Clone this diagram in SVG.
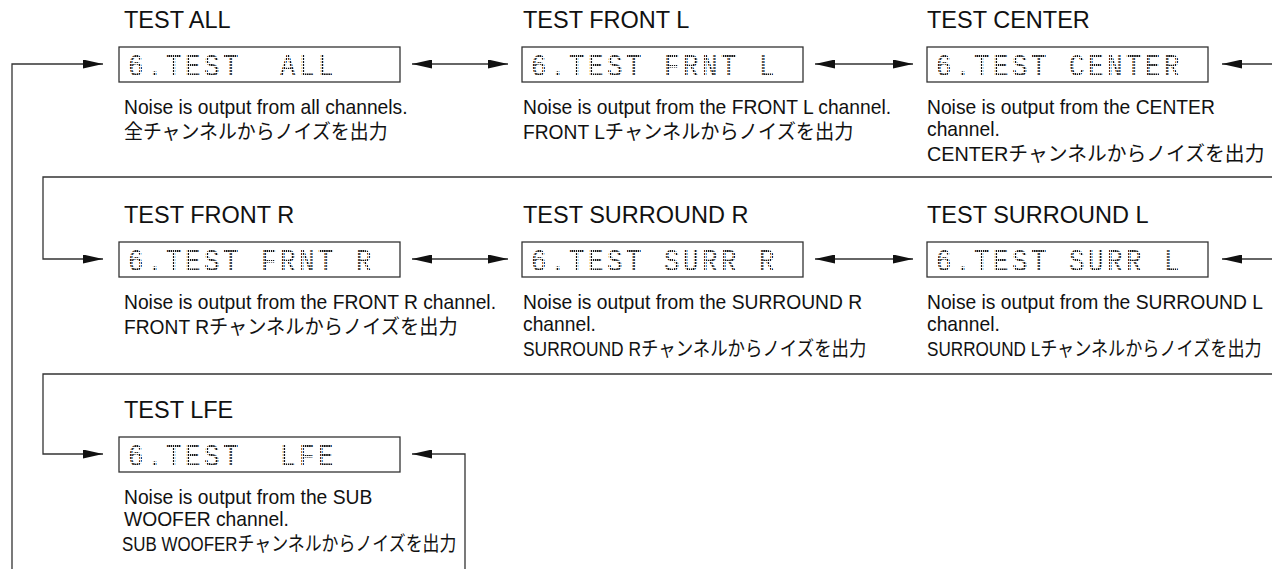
<svg xmlns="http://www.w3.org/2000/svg" width="1272" height="569" viewBox="0 0 1272 569">
<style>
.t{font-family:"Liberation Sans",Arial,sans-serif;font-size:23.5px;fill:#111}
.d{font-family:"Liberation Sans",Arial,sans-serif;font-size:20.5px;fill:#111}
.j{font-family:"Liberation Sans","Noto Sans CJK JP",sans-serif;font-size:20px;fill:#111}
.lcd{font-family:"Liberation Mono","DejaVu Sans Mono",monospace;font-size:31.5px;letter-spacing:4.27px;fill:url(#dots)}
.box{fill:#fff;stroke:#333;stroke-width:1.3}
.c{fill:none;stroke:#333;stroke-width:1.3}
</style>
<defs>
<pattern id="dots" width="2.6" height="3" patternUnits="userSpaceOnUse"><rect width="1.8" height="2" fill="#111"/></pattern>
<marker id="ah" viewBox="0 0 20 9" refX="20" refY="4.5" markerWidth="20" markerHeight="9" markerUnits="userSpaceOnUse" orient="auto-start-reverse"><path d="M0,0 L20,4.5 L0,9 z" fill="#111"/></marker>
</defs>
<rect width="1272" height="569" fill="#fff"/>
<g id="connectors">
<path class="c" d="M12,569 V64 H103" marker-end="url(#ah)"/>
<path class="c" d="M412,64 H508" marker-start="url(#ah)" marker-end="url(#ah)"/>
<path class="c" d="M815,64 H913" marker-start="url(#ah)" marker-end="url(#ah)"/>
<path class="c" d="M1272,64 H1222" marker-end="url(#ah)"/>
<path class="c" d="M1272,177 H43 V259 H103" marker-end="url(#ah)"/>
<path class="c" d="M412,259 H508" marker-start="url(#ah)" marker-end="url(#ah)"/>
<path class="c" d="M815,259 H913" marker-start="url(#ah)" marker-end="url(#ah)"/>
<path class="c" d="M1272,259 H1222" marker-end="url(#ah)"/>
<path class="c" d="M1272,374 H43 V454 H103" marker-end="url(#ah)"/>
<path class="c" d="M465,569 V454 H412" marker-end="url(#ah)"/>
</g>
<g id="test-all">
<text class="t" x="124" y="28">TEST ALL</text>
<rect class="box" x="119" y="47" width="281" height="35"/>
<text class="lcd" transform="translate(128 76) scale(0.82 1)">6.TEST <tspan x="185.4">ALL</tspan></text>
<text class="d" transform="translate(124 114) scale(0.94 1)">Noise is output from all channels.</text>
<text class="j" transform="translate(124 139) scale(0.946 1)">全チャンネルからノイズを出力</text>
</g>
<g id="test-front-l">
<text class="t" x="523" y="28">TEST FRONT L</text>
<rect class="box" x="522" y="47" width="281" height="35"/>
<text class="lcd" transform="translate(531 76) scale(0.82 1)">6.TEST <tspan x="162.2">FRNT</tspan> <tspan x="278">L</tspan></text>
<text class="d" transform="translate(523 114) scale(0.94 1)">Noise is output from the FRONT L channel.</text>
<text class="j" transform="translate(523 139) scale(0.961 1)">FRONT Lチャンネルからノイズを出力</text>
</g>
<g id="test-center">
<text class="t" x="927" y="28">TEST CENTER</text>
<rect class="box" x="927" y="47" width="281" height="35"/>
<text class="lcd" transform="translate(936 76) scale(0.82 1)">6.TEST <tspan x="162.2">CENTER</tspan></text>
<text class="d" transform="translate(927 114) scale(0.94 1)">Noise is output from the CENTER</text>
<text class="d" transform="translate(927 136) scale(0.94 1)">channel.</text>
<text class="j" transform="translate(927 161) scale(0.99 1)">CENTERチャンネルからノイズを出力</text>
</g>
<g id="test-front-r">
<text class="t" x="124" y="223">TEST FRONT R</text>
<rect class="box" x="119" y="242" width="281" height="35"/>
<text class="lcd" transform="translate(128 271) scale(0.82 1)">6.TEST <tspan x="162.2">FRNT</tspan> <tspan x="278">R</tspan></text>
<text class="d" transform="translate(124 309) scale(0.94 1)">Noise is output from the FRONT R channel.</text>
<text class="j" transform="translate(124 334) scale(0.961 1)">FRONT Rチャンネルからノイズを出力</text>
</g>
<g id="test-surround-r">
<text class="t" x="523" y="223">TEST SURROUND R</text>
<rect class="box" x="522" y="242" width="281" height="35"/>
<text class="lcd" transform="translate(531 271) scale(0.82 1)">6.TEST <tspan x="162.2">SURR</tspan> <tspan x="278">R</tspan></text>
<text class="d" transform="translate(523 309) scale(0.94 1)">Noise is output from the SURROUND R</text>
<text class="d" transform="translate(523 331) scale(0.94 1)">channel.</text>
<text class="j" transform="translate(523 356) scale(0.871 1)">SURROUND Rチャンネルからノイズを出力</text>
</g>
<g id="test-surround-l">
<text class="t" x="927" y="223">TEST SURROUND L</text>
<rect class="box" x="927" y="242" width="281" height="35"/>
<text class="lcd" transform="translate(936 271) scale(0.82 1)">6.TEST <tspan x="162.2">SURR</tspan> <tspan x="278">L</tspan></text>
<text class="d" transform="translate(927 309) scale(0.94 1)">Noise is output from the SURROUND L</text>
<text class="d" transform="translate(927 331) scale(0.94 1)">channel.</text>
<text class="j" transform="translate(927 356) scale(0.856 1)">SURROUND Lチャンネルからノイズを出力</text>
</g>
<g id="test-lfe">
<text class="t" x="124" y="418">TEST LFE</text>
<rect class="box" x="119" y="437" width="281" height="35"/>
<text class="lcd" transform="translate(128 466) scale(0.82 1)">6.TEST <tspan x="185.4">LFE</tspan></text>
<text class="d" transform="translate(124 504) scale(0.94 1)">Noise is output from the SUB</text>
<text class="d" transform="translate(124 526) scale(0.94 1)">WOOFER channel.</text>
<text class="j" transform="translate(122 551) scale(0.846 1)">SUB WOOFERチャンネルからノイズを出力</text>
</g>
</svg>
